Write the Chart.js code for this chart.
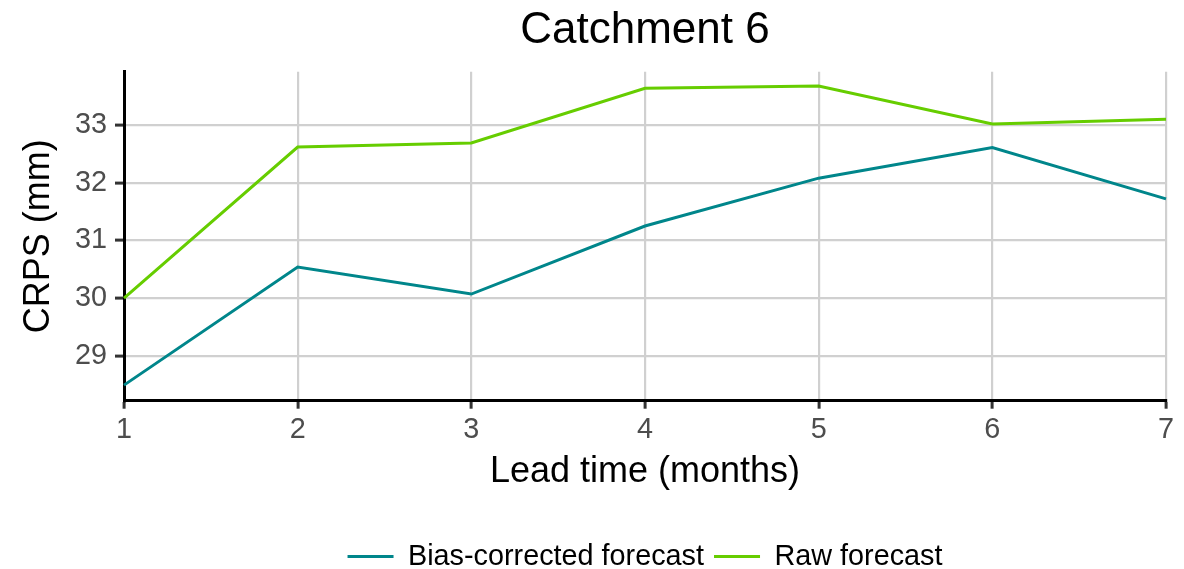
<!DOCTYPE html>
<html>
<head>
<meta charset="utf-8">
<title>Catchment 6</title>
<script src="https://cdn.jsdelivr.net/npm/chart.js@4/dist/chart.umd.min.js"></script>
<style>
  html, body { margin: 0; padding: 0; background: #ffffff; }
  #wrap { position: relative; width: 1184px; height: 569px; }
</style>
</head>
<body>
<div id="wrap"><canvas id="chart"></canvas></div>
<script>
// Lead times (months) on the x axis
const leadTimes = ['1', '2', '3', '4', '5', '6', '7'];
// CRPS (mm) per lead time
const biasCorrected = [28.49, 30.54, 30.07, 31.25, 32.08, 32.61, 31.72];
const rawForecast   = [30.00, 32.62, 32.69, 33.64, 33.68, 33.02, 33.10];
// y axis ticks and visible range
const yTicks = [29, 30, 31, 32, 33];
const yRange = [28.22, 33.925];

const FONT = '"Liberation Sans", Arial, Helvetica, sans-serif';
const TEAL = '#00868B';
const GREEN = '#66CD00';
const GRID = '#D0D0D0';

new Chart(document.getElementById('chart'), {
  type: 'line',
  data: {
    labels: leadTimes,
    datasets: [
      {
        label: 'Bias-corrected forecast',
        data: biasCorrected,
        borderColor: TEAL,
        backgroundColor: TEAL,
        borderWidth: 3,
        pointRadius: 0,
        pointHoverRadius: 0,
        tension: 0,
        fill: false
      },
      {
        label: 'Raw forecast',
        data: rawForecast,
        borderColor: GREEN,
        backgroundColor: GREEN,
        borderWidth: 3,
        pointRadius: 0,
        pointHoverRadius: 0,
        tension: 0,
        fill: false
      }
    ]
  },
  options: {
    responsive: true,
    maintainAspectRatio: false,
    animation: false,
    events: [],
    layout: { padding: { left: 0, right: 18, top: 0, bottom: -12 } },
    plugins: {
      tooltip: { enabled: false },
      title: {
        display: true,
        text: 'Catchment 6',
        fullSize: false,
        color: '#000000',
        font: { family: FONT, size: 44, weight: 'normal', lineHeight: 1.2 },
        padding: { top: 4, bottom: 15 }
      },
      legend: {
        display: true,
        position: 'bottom',
        fullSize: false,
        labels: {
          usePointStyle: true,
          pointStyle: 'line',
          pointStyleWidth: 46,
          color: '#000000',
          padding: 10,
          font: { family: FONT, size: 28.8, weight: 'normal' }
        }
      }
    },
    scales: {
      x: {
        type: 'category',
        offset: false,
        grid: {
          color: GRID,
          lineWidth: 2.2,
          drawTicks: true,
          tickLength: 8,
          tickColor: '#333333',
          tickWidth: 3,
          offset: false
        },
        border: { display: true, color: '#000000', width: 3 },
        ticks: {
          color: '#4D4D4D',
          padding: 4,
          maxRotation: 0,
          autoSkip: false,
          font: { family: FONT, size: 28.8, weight: 'normal' }
        },
        title: {
          display: true,
          text: 'Lead time (months)',
          color: '#000000',
          font: { family: FONT, size: 36, weight: 'normal', lineHeight: 1.2 },
          padding: { top: 0, bottom: 39 }
        },
        afterFit(scale) { scale.height = 131.5; }
      },
      y: {
        type: 'linear',
        min: yRange[0],
        max: yRange[1],
        grid: {
          color: GRID,
          lineWidth: 2.2,
          drawTicks: true,
          tickLength: 9,
          tickColor: '#333333',
          tickWidth: 3
        },
        border: { display: true, color: '#000000', width: 3 },
        ticks: {
          color: '#4D4D4D',
          padding: 8,
          font: { family: FONT, size: 28.8, weight: 'normal' },
          callback: (v) => String(v)
        },
        afterBuildTicks(scale) {
          scale.ticks = yTicks.map(v => ({ value: v }));
        },
        title: {
          display: true,
          text: 'CRPS (mm)',
          color: '#000000',
          font: { family: FONT, size: 36, weight: 'normal', lineHeight: 1.2 },
          padding: { top: 17, bottom: 0 }
        },
        afterFit(scale) { scale.width = 124; }
      }
    }
  }
});
</script>
</body>
</html>
